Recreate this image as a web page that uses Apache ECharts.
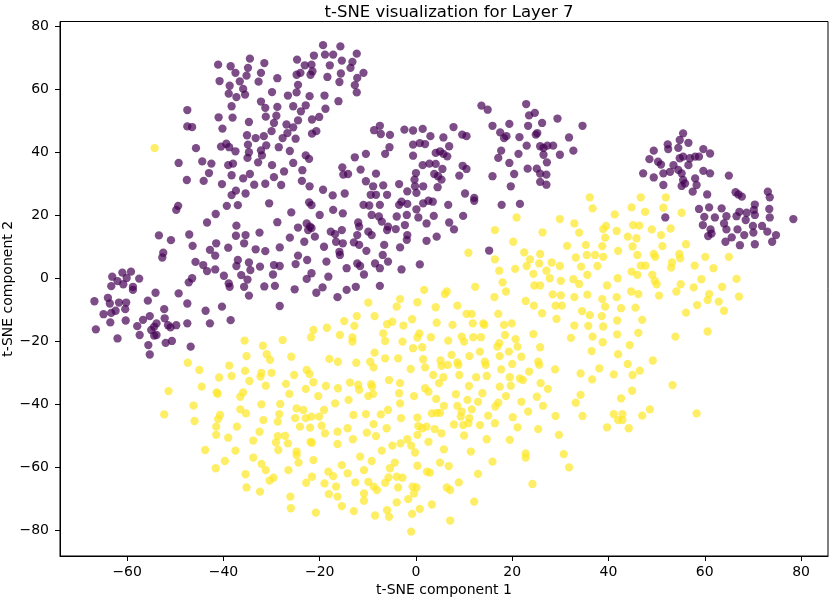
<!DOCTYPE html>
<html>
<head>
<meta charset="utf-8">
<title>t-SNE visualization for Layer 7</title>
<script src="https://cdn.jsdelivr.net/npm/echarts@6/dist/echarts.min.js"></script>
<style>
  html, body { margin: 0; padding: 0; background: #fff; }
  #chart { width: 830px; height: 600px; }
</style>
</head>
<body>
<div id="chart"></div>
<script>
// tick labels
const xTicks = [-60, -40, -20, 0, 20, 40, 60, 80]
const yTicks = [-80, -60, -40, -20, 0, 20, 40, 60, 80]

// class 0 (purple), [component 1, component 2]
const class0 = [
  [-41.1,67.7],[-38.5,67.2],[-34.5,69.6],[-31.5,68.2],[-24.7,69.3],[-21.2,70.6],[-23.1,67.5],
  [-37.5,65.1],[-34.9,66.7],[-32.2,65.1],[-35.2,64.2],[-28.8,63.4],[-24.8,64.5],[-24,65.1],
  [-40.8,62.5],[-36.6,62.4],[-32.7,62.3],[-38.7,61],[-35.9,60],[-24.5,61.3],
  [-38.9,58.5],[-37.3,57.4],[-35.5,58.2],[-29.9,59],[-26.6,57.9],[-24.8,58.9],[-22.1,57.7],
  [-38.3,54.5],[-32.2,56],[-31.3,54],[-28.8,54.3],[-25.5,54.5],[-23.9,52.9],[-22.9,54.8],
  [-47.5,53.3],[-41,51],[-38.1,50.9],[-34.7,49.5],[-31.2,51.2],[-29,51.5],[-24.5,50],[-21.6,50.3],
  [-47.5,48.1],[-46.5,47.9],[-40.2,47.4],[-29.5,49.2],[-26.9,48.7],[-25.5,47.8],[-30,46.6],
  [-35.1,45.3],[-33.3,44.4],[-31.6,45],[-27.7,44.4],[-26.7,46],[-25,44.2],[-21.6,45.8],[-20.7,46.6],
  [-45.7,41.2],[-40.5,41.7],[-39.4,42.6],[-38.8,41.5],[-37.5,40.2],[-34.9,42.3],[-34.7,39.9],
  [-32.2,40.5],[-32,38.9],[-31.1,42.1],[-28.5,41.5],[-26.2,40.3],[-22.9,38.9],[-22.2,37.8],
  [-49.3,36.5],[-44.4,37],[-42.5,36.3],[-39,35.8],[-38,36.3],[-35,38.1],[-32.8,36.7],[-29.9,35.8],[-25.5,36.5],[-23.6,34.2],
  [-43,33.3],[-38.3,32.6],[-35.9,31.6],[-34.5,33],[-29.5,32],[-27.4,33.8],
  [-47.6,31.1],[-44.1,30.8],[-40.3,29.8],[-33.6,29.6],[-31.3,29.9],[-28,29.5],[-23.7,30.8],[-22.1,29.1],
  [-38.3,26.3],[-37.4,27.7],[-35.4,26.8],
  [-49.4,22.9],[-49.8,21.6],[-39.3,22.9],[-37,23.1],[-30.5,23.7],[-22.2,24],[-21.7,23.1],
  [-41.6,20.3],[-43.4,17.6],[-25.9,20.8],[-28.8,17.7],[-37.3,16.6],[-24.5,16],
  [-53.4,13.5],[-50.9,12],[-47.1,13.8],[-37.4,13.4],[-35.4,13.6],[-35.7,11],[-32.5,14.4],[-26.2,12.8],[-23.2,11.5],
  [-46.4,10.2],[-52.5,8],[-52.7,6.5],[-42.8,8.9],[-41.5,11],[-41.7,7.1],[-39,9.6],[-33.3,9.1],[-31.3,8.5],[-28.3,9.7],
  [-45.8,5.1],[-44.2,4.1],[-43.4,2.2],[-41.7,2.7],[-37,5.7],[-37.3,3.8],[-34.7,4.9],[-34.4,2.5],[-32.4,3.6],[-29.5,4.1],[-28.3,3.8],[-24.5,7.1],[-25,4.4],
  [-39.9,0.7],[-36.3,0.9],[-35,-0.5],[-29.7,1.1],[-46.5,-0.1],[-47.2,-1.4],[-38.9,-1.7],[-38.7,-2.8],[-35.7,-2.8],[-31.5,-2.7],[-29.3,-2.5],[-25.2,-3.6],[-20.7,-4.7],
  [-34.7,-5.6],[-28.3,-8.9],[-40.3,-9.1],[-43.7,-10.4],[-38.5,-13.4],[-42.8,-14.4],[-47.5,-8.1],[-47.5,-14.4],[-49.3,-4.9],
  [-54.1,-4.7],[-55.7,-7.2],[-52.3,-9.9],[-56.7,-13.3],[-55.3,-12.1],[-53.9,-14.4],[-54.4,-15.5],[-52.2,-12.8],[-51.5,-15],[-51,-15.7],[-49.8,-15],
  [-57.9,-15.3],[-57.4,-18.1],[-55,-16.5],[-54.4,-18.3],[-53.9,-18.1],[-52,-20.6],[-50.7,-20],[-55.6,-21.3],[-55.3,-24.3],[-46.8,-21.8],
  [-62,-19.2],[-66.5,-16.3],[-66.8,-7.4],[-64,-6.3],[-63.6,-8.1],[-61.7,-7.8],[-60.2,-7.8],[-60.4,-9.9],[-64.9,-11.5],[-63.3,-11.1],[-62.4,-10.4],[-63.5,-14.1],[-60.3,-13.5],
  [-63.1,0.4],[-61,1.7],[-59.2,2],[-57.5,-0.2],[-62,-1],[-60.8,-2],[-60.1,0],[-63.3,-2.6],[-58.8,-2.8],[-58.8,-3.8],
  [-19.3,73.9],[-15.7,73.5],[-18.9,70.9],[-17.2,70.9],[-12.3,71.2],[-15.4,69],[-13.2,68.6],[-13.6,66.7],[-17.9,67.5],
  [-21.7,67.7],[-21.5,65.6],[-21.9,64.5],[-10.9,65.1],[-12.2,63.5],[-12.7,61.2],[-12.3,58.9],[-18.4,63.8],[-15.6,64.9],[-15.9,62.2],
  [-19,57.9],[-16.1,56.1],[-18.8,53.7],[-20.1,51.1],
  [-8.7,46.9],[-7.5,48.3],[-7.3,45.7],[-5.4,45.4],[-5.5,41.5],[-6.4,39.4],[-2.4,47.1],[-0.6,46.8],[1.4,47.3],[3,45],
  [-0.6,42.3],[0.8,42.8],[1.9,42.5],[5.7,44.6],[7.8,47.9],[9.6,45.5],[10.5,45],[6.9,41.8],
  [4.1,39.7],[5,40.2],[5.7,39.4],[6.5,38.6],[-0.6,38.8],[-12.7,38.3],[-10.4,39.4],
  [-15.3,35.1],[-15.1,32.8],[-14.1,33],[-11.5,34.4],[-8.3,33.1],[1.4,35.8],[2.8,36.3],[4.1,36.2],[5.5,34.6],
  [0,33.3],[-0.3,31.2],[1.5,29.1],[-0.2,29.1],[3.8,33],[4.6,32.3],[5.3,31.2],[4.5,28.8],[9.7,35.6],[10.5,34.6],[9,32.5],[10.2,26.8],[12.1,25.4],
  [-10.4,30.7],[-8.9,29.1],[-6.8,29.4],[-3.5,29.8],[-1.8,27.5],[0.1,27],
  [-6,26.4],[-8.3,26.4],[-9.4,26.4],[-19.3,28],[-17.3,26.2],[-14.8,26.8],
  [13.6,54.7],[14.9,53.4],[22.9,55.2],[23.5,51.6],[24.7,52.4],[15.9,48.3],[19.4,48.9],[23.3,48.3],[26.2,49.2],[29.4,50.6],[34.6,48.3],
  [17.5,46.2],[18.3,44.4],[18.8,45],[21.5,44.7],[24.9,45.5],[25.2,46],[23,42],[25.8,41.8],[26.5,41.3],[27.3,42],[28.5,42],[31.8,44.6],
  [17.7,40.4],[17.1,38.1],[21.3,39.4],[26.5,39.1],[27.2,36.7],[29.9,39.1],[32.7,40.4],[19.4,36.5],[23.2,34.7],[25.1,34.7],[25.8,33.1],[27.1,32.8],
  [20.4,33],[15.9,32.3],[25.8,30.5],[27.1,29.6],[19.7,29.1],
  [-17.2,21.6],[-15.2,20.5],[-20,20],[-22.7,17.3],[-22,16.3],[-21.7,15.8],[-22.4,15.2],[-21,13.1],[-19.1,9.9],
  [-17.7,14.7],[-16.8,13.9],[-16.6,11.5],[-15.4,15.2],[-15.2,11],[-15.9,8.3],[-15.8,7.3],
  [-12,17.6],[-11.8,16.3],[-12.2,13.6],[-12.9,11.3],[-11.8,10.5],[-10.3,8.6],[-9.9,14.7],[-9.2,13.6],
  [-10.9,23.2],[-9.7,23],[-7.5,23.2],[-9.2,20],[-7.7,19.5],[-7.1,17.9],[-5.8,16.3],[-6,15.2],[-4,19.5],[-1.9,20],
  [-3,24.2],[-1.8,23.5],[-3.5,23.2],[0.1,21.8],[1.5,23.7],[2.6,24.5],[3.5,24.2],[0.5,19.2],[-4.2,15.5],[-2.3,16.8],[-1.8,13.6],[-1.9,12.1],[-3.3,9.7],[-6.6,10.5],[-6.9,7.3],
  [-8.5,4.6],[-7.5,3.1],[-5.8,5.2],[-3,2.7],[0.8,4.3],[-12.2,4.6],[-11.6,3.8],[-10.8,1.1],[-14.4,3.1],[-18.6,5.2],[-22.6,5.7],[-21.7,1.5],[-22.7,-0.3],[-19.4,-3],[-18.2,0.4],
  [-14.4,-3.8],[-12.5,-2.8],[-16.3,-6.1],[-7.5,-2.5],[2.2,17.3],[2.2,11.8],[4.3,13.1],[3.7,19.7],[6.9,17.6],[7.9,15.4],[6.7,23.2],[9.8,19.7],[12.1,24.5],[17.8,23.2],[21.6,23.5],[15.2,8.7],
  [55.5,45.9],[54.8,43.8],[56.6,42.9],[52.3,42.4],[52.4,40.9],[54.5,41.3],[49.4,40.4],[48.5,37.7],[50.3,36.9],[50.9,36],
  [53.5,35.8],[54.8,38],[55.5,38.5],[56.9,38],[58,38.5],[58.8,38.5],[59.7,40.9],[61.1,39.5],[52.8,33.7],[54.5,34.3],[55.2,33.2],[56.6,35.8],[59.7,34],[61.1,33.2],
  [47.2,33.2],[49.4,31.9],[51.4,33.2],[55.5,31.1],[55.9,30],[55.2,29.2],[58,31.6],[58.3,29.5],[51.4,29.5],[57.5,27.4],[60.5,26.5],[65,32.5],
  [66.4,27.2],[67,26.5],[67.7,25.8],[73.1,27.4],[73.5,25.6],[58.8,21.9],[60.9,22.4],[63.5,22.1],[59.9,19.4],[62.1,19.2],[64.5,19.6],
  [70.4,23.3],[70.2,21.6],[68.7,20.7],[67.2,21],[66.6,19.6],[68.5,18.4],[70.4,20],[73.4,21.9],[73.5,19.2],[78.4,18.7],
  [59.6,16.8],[61.2,15.4],[61.4,14.1],[60.7,13.3],[64,17.3],[64.5,15.4],[65.6,12.9],[64.3,11.5],[66.8,15.4],[68.2,13.6],
  [70,16.5],[70.1,14.4],[71.9,16.5],[73,14.7],[74.8,13.6],[74,11.5],[67.3,10.4],[70.4,10.7],[51.8,19.2]
]

// class 1 (yellow), [component 1, component 2]
const class1 = [
  [-54.3,41.2],
  [36.1,25.6],[36.7,22.1],[20.9,19.2],[29.9,18.7],[32.9,17.3],[16.4,15.2],[26.3,14.5],[33.9,14.4],[20.2,11.5],[10.9,8],[31.4,10.2],[35.3,10.5],
  [22.5,8.1],[25.8,7.6],[23.7,5.9],[25.6,4.6],[28.2,4.9],[29.9,3.8],[33.2,6.5],[35.5,7.3],[37.2,7.3],[16.4,5.9],[17.3,2.3],[20.6,2.9],[23,3.8],[24.4,1.3],
  [27.1,2.3],[27.8,-0.1],[30.1,-0.9],[34.3,3.6],[35.6,1],[37.7,3.8],[32.7,-0.4],[33.9,-1.9],[18,-1.4],[24.6,-2.4],[25.8,-2.4],[12.3,-2.8],
  [46.7,25.6],[44.8,22.4],[47.6,21],[51.9,25.6],[51.4,22.3],[55.2,20.7],[41.3,20.2],[38.9,15.5],[39.5,16.5],[39.3,12.8],[41.7,14.9],[44,13.1],[45.1,16.8],[46.4,16.6],
  [49,15.4],[50.9,13.6],[52.9,15.7],[45.8,12.6],[45,10],[51.2,10.1],[56.1,10.7],[38.7,10.1],[42,8.6],[46,7.3],[49.4,7.6],[49.7,6.7],[54.7,7.6],[54.9,6.2],[60.1,6.7],[65,6.7],[38.9,6.7],
  [46.7,3.9],[47.7,3.9],[53.2,4.9],[53,3.3],[57.9,3.9],[61.8,3.1],[44.8,2],[46,1],[49.1,1],[49.6,-0.9],[50,-2],[41.9,-0.1],[39.7,-2.4],[55,-2],[54.1,-4.3],[57.7,-3],[59.3,-0.4],
  [60.9,-5.1],[60.6,-7],[62.9,-7.5],[63.6,-2.8],[66.6,-0.3],[67.1,-5.9],[64,-10.4],[58.4,-8.6],[56.1,-11],[50.5,-5.6],[44.7,-4.3],[46.2,-5.1],[41.7,-6.1],[42.6,-9.6],[45.6,-9.4],
  [41.8,-13.5],[47,-13.3],[41.8,-17.9],[46.2,-17.4],[44.4,-21.3],[53.9,-18.6],[60.6,-17],[42,-24.2],[44,-27.3],[49.2,-26.2],[45,-30.8],[46.5,-29.4],[41.1,-30.6],[53.3,-34],[44.9,-35.8],[42.6,-38.2],
  [48.6,-41.7],[47,-43.7],[41.1,-43.2],[42,-45.1],[42.9,-43.2],[42.9,-45.1],[44.2,-47.7],[58.3,-43],
  [-9.9,-7.8],[-12.3,-12.1],[-14.9,-13.7],[-12.8,-15.2],[-8.6,-12.1],[-21.3,-16.5],[-18.5,-15.8],[-21.8,-18.8],[-15.8,-18.1],[-13.2,-18.9],[-13.2,-20.2],[-27.7,-19.7],[-35.6,-19.9],[-31.8,-21.5],[-8.6,-23.7],
  [-35.2,-24.8],[-31,-24.2],[-30.3,-26],[-25.9,-25],[-18,-25.7],[-16.2,-26.6],[-12.4,-26.9],[-9.5,-26.6],[-8.8,-28.4],[-47.4,-26.9],[-45,-29.2],[-38.8,-27.8],[-40.9,-31.6],[-38.3,-31.1],
  [-35.5,-29.5],[-32.1,-30.1],[-32.3,-31.3],[-30,-30.1],[-25.3,-30.8],[-22.7,-29.2],[-22.1,-30.5],[-21.3,-33.1],[-34.6,-32.7],[-31.2,-34.2],[-27,-33.6],[-22.9,-35.2],[-18.7,-34.3],[-16.2,-35],
  [-13.7,-33.2],[-12,-33.9],[-11.8,-35.5],[-9.3,-33.7],[-9.1,-34.5],[-51.4,-35.9],[-44.5,-34.5],[-41.4,-36.3],[-41.2,-36.8],[-35.9,-36.3],[-36.5,-37.7],[-20.3,-37.5],[-26.3,-36.8],[-9.9,-37.5],[-8.9,-36.8],[-14,-38.7],
  [-46.2,-40.5],[-52.3,-43.3],[-46,-45.4],[-40.7,-43.5],[-41.1,-44.8],[-41.5,-47.2],[-41.5,-49.8],[-36.5,-41.7],[-35.3,-43],[-37.2,-47.2],[-32.1,-40.1],[-31.7,-45.1],[-32.5,-48.8],[-33.8,-51.6],
  [-28.2,-40],[-28.4,-43.2],[-28.7,-45.6],[-24.8,-41.4],[-23.4,-41.9],[-25.1,-44.5],[-24.1,-47.2],[-22.9,-44.5],[-21.7,-44],[-20.1,-44],[-19.1,-41.9],[-16.8,-39.8],
  [-22,-47.5],[-19.6,-46.9],[-18.9,-49.3],[-16.3,-48.8],[-14.2,-47.7],[-16.3,-52.7],[-13,-43.5],[-10.4,-43.2],[-8.8,-46.4],[-13.1,-51.2],[-10.2,-49.1],[-8.3,-50.2],
  [-39,-50.7],[-28.7,-50.2],[-27.2,-50.1],[-29.1,-52.2],[-26.6,-52.5],[-28.6,-54.6],[-21.9,-52],[-21.6,-52.3],[-43.8,-54.6],[-37.5,-54.8],[-24.8,-55.1],[-24.4,-58.6],[-24.8,-56.2],[-21.3,-57.8],
  [-15.4,-59.4],[-18.2,-61.5],[-17.2,-62.9],[-14.2,-62],[-10.8,-61],[-11.6,-56.7],[-9.2,-58.1],[-33.8,-57],[-39.7,-58.1],[-41.6,-60.4],[-32.1,-59],[-31.2,-61],[-29.6,-63.4],[-30.4,-64.3],[-35.4,-62.3],[-26.5,-61],
  [-22.8,-65],[-21.6,-63.1],[-19,-65.2],[-16.6,-66.2],[-12.6,-64.9],[-9.9,-64.7],[-8.8,-66.2],[-8.1,-67.3],[-35.2,-66.5],[-32.4,-67.8],[-26.1,-69.4],[-26,-73.1],[-18.1,-68.6],[-16.3,-69.4],[-15.4,-72.4],
  [-10.8,-68.4],[-10.8,-70.7],[-20.8,-74.5],[-12.9,-74],[-8.5,-75.4],
  [-3.3,-6.7],[-4,-9.1],[0.3,-7.7],[1.7,-3.8],[6,-5.1],[6.4,-4.3],[4.1,-9.3],[8.6,-8.8],[10.5,-11.4],[11.6,-11.4],[16.3,-6.1],[18.7,-4.3],[17.1,-11.4],
  [22.8,-7.3],[24.5,-8.8],[26.2,-11.2],[28.4,-5.2],[30.1,-5.5],[32.9,-6.1],[35.6,-5.3],[38.7,-6.7],[29,-8.8],[30.3,-8.8],[34.5,-10.5],[36.1,-11.8],[38.6,-12.1],[39.3,-9.1],
  [29.2,-13],[32.9,-15.1],[35.8,-15.2],[38.9,-15.4],[32.2,-19],[36.7,-18.6],[38.8,-20.4],[36.5,-23.2],[38.1,-28.7],[34.2,-30.3],[36.6,-32.2],[28.9,-29],[34.2,-37.1],[33.2,-39.6],[34.6,-43.8],[39.7,-47.4],
  [29,-43.8],[29.7,-49.8],[30.7,-55.9],[31.8,-60.1],[24.2,-65.4],[22.8,-55.7],[22.8,-57],[25.4,-48],[21.1,-47.4],[20.1,-44.2],[19.5,-51.4],[15.9,-58.3],[14.7,-51.2],[16.4,-46.1],[15,-43.7],[12.9,-62.2],[12.1,-71],
  [8.9,-64.9],[7.1,-67.3],[6.4,-66.5],[7.1,-77],[3.3,-71.9],[0.8,-73.3],[-0.8,-74.9],[-1,-80.5],[-1.6,-70.2],[-4,-71.2],[-6,-73.7],[-5.6,-75.8],[-0.7,-66.2],[0.1,-66.5],[-0.4,-68.4],
  [-3.7,-66.5],[-2.8,-63.4],[-5.7,-63.3],[-6.4,-65],[2.9,-61.8],[2.3,-61.5],[6.8,-59.7],[5,-58.6],[0.3,-59.6],[-4.4,-58.6],[-5.4,-60.4],[-4,-63.1],
  [-7.1,-54.8],[-4.9,-53.2],[-3.2,-52.5],[-1.8,-51.2],[-1,-53.2],[-0.2,-55.4],[2.6,-52],[5.8,-54.4],[11.4,-55.1],[10,-50],[5.3,-49.3],[3.9,-48],[2.2,-47.2],[0.5,-47],[0.3,-49.8],[1.3,-47.7],
  [0.3,-44.3],[-3.1,-44.5],[-6.1,-47.7],[-5.8,-41.9],[-7.3,-43.3],[-3.3,-39.8],[-3.5,-36.6],[-3.3,-33.4],[-5.6,-32.4],[-0.4,-37.5],[1.9,-35],[2.6,-36.1],[4.2,-38.4],[5.8,-40.6],[3.3,-43],[4.3,-42.8],[5,-42.8],
  [7.9,-46.5],[9.8,-46.7],[10.9,-46.1],[9.3,-44],[11.1,-44.5],[9.5,-42.4],[8.6,-40.6],[11.6,-41.7],[10.7,-38.7],[12.9,-39.3],[13.3,-46.7],[8.3,-36.9],[11,-34.3],[12.5,-31.5],[13.8,-36.6],
  [17.1,-39.6],[16.5,-40.8],[18.7,-37.5],[21.9,-39.3],[23.3,-42.4],[25.1,-37.7],[26.4,-40.6],[27.4,-35.2],[25.9,-33.4],[17.4,-34.5],[19.7,-34.2],[19.5,-31.5],[21.6,-31.9],[22.2,-32.4],[23.5,-29.7],
  [25.4,-26.6],[25.6,-27.6],[21.9,-25],[20,-27.3],[17.7,-29],[25.8,-22],[17.4,-24.8],[16.9,-21.8],[17.3,-20.7],[19.3,-23.4],[20.7,-19.4],[21.1,-21.8],[18.5,-18.1],[18.3,-14.9],[19.9,-14.4],[24.4,-17.8],
  [14.3,-26.6],[14.5,-27.6],[14.7,-31.1],[13.3,-23.4],[11.1,-24.8],[14,-14.4],[14.2,-14.9],[11.8,-14.4],[10,-20.2],[9.5,-18.6],[11.9,-18.8],[13.5,-18.8],[6.7,-19.9],[3.1,-18.8],[0.7,-17.6],[0.3,-18.9],[1.3,-22],[-0.6,-22.3],
  [4.3,-14.2],[7.6,-14.9],[-0.8,-13.1],[-2.6,-15.1],[-2.8,-20.2],[-4.9,-13.9],[-6,-14.7],[-6.8,-17.6],[-6.4,-20],[-6.4,-25.5],[-3.7,-25.5],[-1.1,-28.9],[1.5,-25.8],[1.9,-28.4],
  [5.1,-26.2],[5.3,-27.9],[6.6,-27.6],[7.4,-24.4],[8.6,-26.8],[8.8,-27.6],[9,-30.8],[3.6,-30.8],[5.7,-31.5],[4.8,-33.4]
]

const font = 'DejaVu Sans'
const minus = v => String(v).replace('-', '\u2212')

function renderChart() {
  const chart = echarts.init(document.getElementById('chart'), null, { renderer: 'canvas' })
  const axisCommon = {
    type: 'value',
    nameLocation: 'middle',
    nameMoveOverlap: false,
    nameTextStyle: { color: '#000', fontSize: 14, fontFamily: font },
    splitLine: { show: false },
    axisLine: { onZero: false, lineStyle: { color: '#000', width: 1 } },
    axisTick: { show: true, inside: false, length: 5, lineStyle: { color: '#000', width: 1 } }
  }
  const option = {
    animation: false,
    backgroundColor: '#fff',
    title: {
      text: 't-SNE visualization for Layer 7',
      left: 444,
      textAlign: 'center',
      top: -1,
      textStyle: { color: '#000', fontSize: 16.5, fontWeight: 'normal', fontFamily: font }
    },
    grid: {
      left: 60, right: 2, top: 21.5, bottom: 44,
      outerBoundsMode: 'none',
      containLabel: false,
      show: true, borderColor: '#000', borderWidth: 1, backgroundColor: 'transparent'
    },
    xAxis: {
      ...axisCommon,
      min: -73.95, max: 85.6,
      name: 't-SNE component 1',
      nameGap: 27,
      axisTick: { ...axisCommon.axisTick, customValues: xTicks },
      axisLabel: { customValues: xTicks, color: '#000', fontSize: 14, fontFamily: font, margin: 9, formatter: minus }
    },
    yAxis: {
      ...axisCommon,
      min: -88.25, max: 81.4,
      name: 't-SNE component 2',
      nameGap: 45,
      axisTick: { ...axisCommon.axisTick, customValues: yTicks },
      axisLabel: { customValues: yTicks, color: '#000', fontSize: 14, fontFamily: font, margin: 11, formatter: minus }
    },
    series: [
      {
        type: 'scatter',
        data: class0,
        symbolSize: 8.3,
        itemStyle: { color: '#440154', opacity: 0.7 }
      },
      {
        type: 'scatter',
        data: class1,
        symbolSize: 8.3,
        itemStyle: { color: '#fde725', opacity: 0.7 }
      }
    ]
  }
  chart.setOption(option)
}

document.addEventListener('DOMContentLoaded', renderChart)
</script>
</body>
</html>
